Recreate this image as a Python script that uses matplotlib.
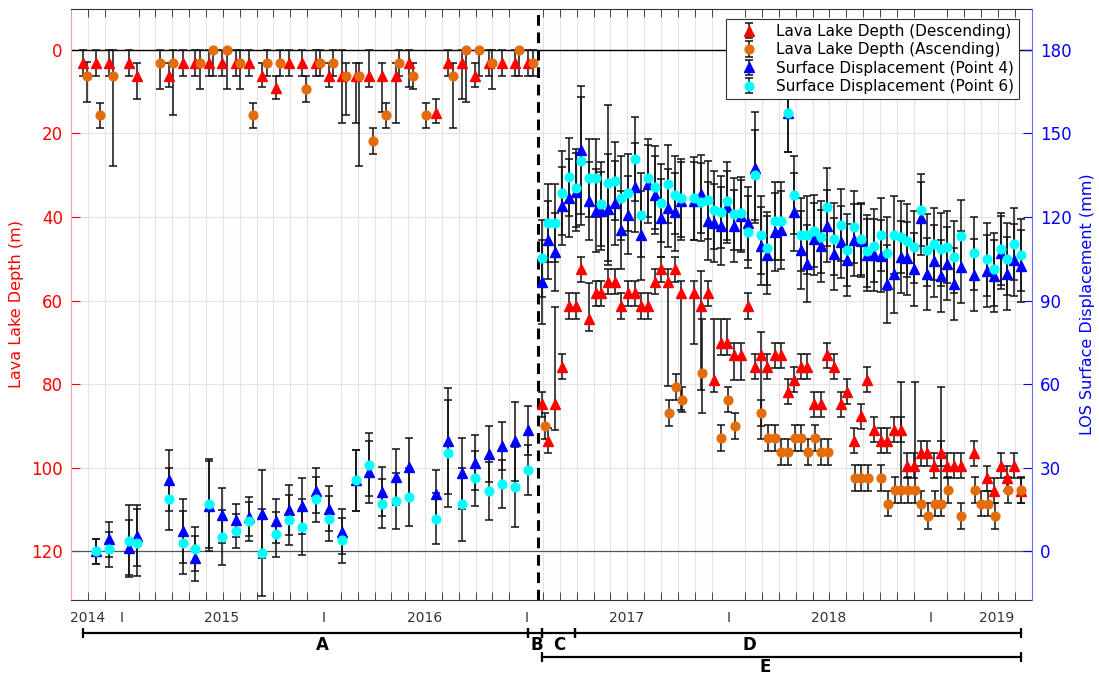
import numpy as np
import matplotlib.pyplot as plt
from matplotlib.transforms import blended_transform_factory

# ---- descending track dates (decimal year) and lava lake depth (m) ----
t_desc = [2014.807, 2014.873, 2014.939, 2015.038, 2015.074, 2015.236, 2015.302, 2015.364,
          2015.432, 2015.498, 2015.564, 2015.631, 2015.695, 2015.762, 2015.827, 2015.893,
          2015.959, 2016.027, 2016.090, 2016.157, 2016.223, 2016.287, 2016.354, 2016.420,
          2016.552, 2016.615, 2016.682, 2016.747, 2016.816, 2016.882, 2016.944, 2017.010,
          2017.076, 2017.109, 2017.142, 2017.175, 2017.211, 2017.244, 2017.273, 2017.310, 2017.343, 2017.372,
          2017.405, 2017.438, 2017.471, 2017.504, 2017.537, 2017.567, 2017.600, 2017.636, 2017.669, 2017.702,
          2017.735, 2017.768, 2017.830, 2017.867, 2017.900, 2017.929, 2017.962, 2017.995, 2018.028, 2018.061,
          2018.097, 2018.130, 2018.160, 2018.193, 2018.229, 2018.262, 2018.295, 2018.325, 2018.358, 2018.391,
          2018.424, 2018.456, 2018.489, 2018.522, 2018.555, 2018.588, 2018.621, 2018.654, 2018.687, 2018.720,
          2018.753, 2018.786, 2018.819, 2018.852, 2018.885, 2018.918, 2018.951, 2018.984, 2019.017, 2019.050,
          2019.083, 2019.116, 2019.149, 2019.214, 2019.280, 2019.313, 2019.346, 2019.379, 2019.412, 2019.445]
depth_desc = [3.1, 3.1, 3.1, 3.1, 6.2, 6.2, 3.1, 3.1, 3.1, 3.1, 3.1, 3.1, 6.2, 9.0, 3.1, 3.1,
              3.1, 6.2, 6.2, 6.2, 6.2, 6.2, 6.2, 3.1, 15.0, 3.1, 3.1, 6.2, 3.1, 3.1, 3.1, 3.1,
              84.8, 93.6, 84.8, 75.8, 61.3, 61.3, 52.5, 64.3, 58.3, 58.3,
              55.5, 55.5, 61.3, 58.3, 58.3, 61.3, 61.3, 55.5, 52.5, 55.5,
              52.5, 58.3, 58.3, 61.3, 58.3, 79.0, 70.1, 70.1, 73.1, 73.1,
              61.3, 75.8, 73.1, 75.8, 73.1, 73.1, 81.8, 79.0, 75.8, 75.8,
              84.8, 84.8, 73.1, 75.8, 84.8, 81.8, 93.6, 87.7, 79.0, 90.9,
              93.6, 93.6, 90.9, 90.9, 99.6, 99.6, 96.6, 96.6, 99.6, 96.6,
              99.6, 99.6, 99.6, 96.6, 102.6, 105.5, 99.6, 102.6, 99.6, 105.5]
desc_err_lo = [3.1, 3.1, 3.1, 3.1, 3.1, 3.1, 3.1, 3.1, 3.1, 3.1, 3.1, 3.1, 3.1, 2.8, 3.1, 3.1,
               3.1, 3.1, 6.2, 3.1, 6.2, 3.1, 3.1, 3.1, 3.2, 3.1, 3.1, 3.1, 3.1, 3.1, 3.1, 3.1,
               3.0, 3.0, 23.3, 3.0, 3.0, 3.0, 3.0, 8.6, 3.0, 3.0,
               3.0, 3.0, 3.0, 3.0, 3.0, 3.0, 3.0, 3.0, 3.0, 3.0,
               3.0, 3.0, 3.0, 8.4, 3.0, 14.5, 5.6, 5.6, 3.0, 3.0,
               3.0, 3.0, 5.6, 3.0, 3.0, 3.0, 3.0, 3.0, 3.0, 3.0,
               3.0, 3.0, 3.0, 3.0, 3.0, 3.0, 3.0, 3.0, 3.0, 3.0,
               3.0, 3.0, 3.0, 3.0, 3.0, 3.0, 3.0, 3.0, 3.0, 3.0,
               3.0, 3.0, 3.0, 3.0, 3.0, 3.0, 3.0, 3.0, 3.0, 3.0]
desc_err_hi = [3.1, 3.1, 3.1, 3.1, 5.5, 2.6, 3.1, 3.1, 3.1, 3.1, 3.1, 3.1, 2.6, 2.7, 3.1, 3.1,
               3.1, 2.6, 11.4, 11.4, 2.6, 8.6, 11.4, 5.7, 2.6, 3.1, 8.6, 2.6, 3.1, 3.1, 3.1, 3.1,
               3.0, 3.0, 6.1, 3.0, 3.0, 3.0, 3.0, 3.0, 3.0, 3.0,
               3.0, 3.0, 3.0, 3.0, 3.0, 3.0, 3.0, 3.0, 3.0, 25.0,
               3.0, 28.0, 12.0, 20.0, 3.0, 3.0, 3.0, 3.0, 6.0, 6.0,
               3.0, 3.0, 20.0, 3.0, 3.0, 3.0, 3.0, 3.0, 3.0, 3.0,
               3.0, 3.0, 3.0, 3.0, 3.0, 3.0, 3.0, 3.0, 3.0, 3.0,
               3.0, 3.0, 3.0, 3.0, 3.0, 3.0, 3.0, 3.0, 3.0, 3.0,
               3.0, 3.0, 3.0, 3.0, 3.0, 3.0, 3.0, 3.0, 3.0, 3.0]

# ---- ascending track ----
t_asc = [2014.830, 2014.893, 2014.959, 2015.189, 2015.255, 2015.387, 2015.453, 2015.519,
         2015.585, 2015.651, 2015.717, 2015.783, 2015.911, 2015.980, 2016.046, 2016.109,
         2016.175, 2016.241, 2016.307, 2016.373, 2016.438, 2016.504, 2016.636, 2016.702,
         2016.768, 2016.832, 2016.966, 2017.032,
         2017.095, 2017.707, 2017.740, 2017.773, 2017.870, 2017.965, 2017.998, 2018.031,
         2018.163, 2018.196, 2018.229, 2018.262, 2018.295, 2018.328, 2018.361, 2018.394,
         2018.427, 2018.460, 2018.493, 2018.625, 2018.657, 2018.690, 2018.756, 2018.789,
         2018.822, 2018.855, 2018.888, 2018.921, 2018.954, 2018.987, 2019.020, 2019.053,
         2019.086, 2019.152, 2019.218, 2019.251, 2019.284, 2019.317, 2019.382, 2019.448]
depth_asc = [6.2, 15.6, 6.2, 3.1, 3.1, 3.1, 0.0, 0.0, 3.1, 15.6, 3.1, 3.1, 9.4, 3.1, 3.1, 6.2,
             6.2, 21.8, 15.6, 3.1, 6.2, 15.6, 6.2, 0.0, 0.0, 3.1, 0.0, 3.1,
             90.1, 86.9, 80.6, 83.7, 77.4, 93.0, 83.7, 90.1, 86.9, 93.0, 93.0, 96.2, 96.2, 93.0,
             93.0, 96.2, 93.0, 96.2, 96.2, 102.4, 102.4, 102.4, 102.4, 108.6, 105.4, 105.4,
             105.4, 105.4, 108.6, 111.6, 108.6, 108.6, 105.4, 111.6, 105.4, 108.6, 108.6,
             111.6, 105.4, 105.4]
asc_err_lo = [3.2, 3.0, 6.2, 3.1, 3.1, 3.1, 0.0, 0.0, 3.1, 3.0, 3.1, 3.1, 3.2, 3.1, 3.1, 3.1,
              3.1, 3.2, 3.0, 3.1, 3.1, 3.0, 3.1, 0.0, 0.0, 3.1, 0.0, 3.1,
              3.1, 3.1, 3.1, 3.1, 12.9, 3.1, 3.1, 3.1, 3.1, 3.1, 3.1, 3.1, 3.1, 3.1,
              3.1, 3.1, 3.1, 3.1, 3.1, 3.1, 3.1, 3.1, 3.1, 3.1, 3.1, 26.0,
              3.1, 26.0, 3.1, 3.1, 3.1, 28.0, 3.1, 3.1, 3.1, 3.1, 3.1,
              3.1, 3.1, 3.1]
asc_err_hi = [6.3, 3.0, 21.6, 6.3, 12.5, 6.3, 6.2, 9.4, 6.3, 3.0, 3.1, 3.1, 3.1, 3.1, 3.1, 9.4,
              21.6, 3.1, 3.0, 3.1, 3.2, 3.0, 12.4, 12.5, 6.2, 6.3, 6.2, 3.1,
              3.1, 3.1, 3.1, 3.1, 9.5, 3.1, 3.1, 3.1, 3.1, 3.1, 3.1, 3.1, 3.1, 3.1,
              3.1, 3.1, 3.1, 3.1, 3.1, 3.1, 3.1, 3.1, 3.1, 3.1, 3.1, 3.1,
              3.1, 3.1, 3.1, 3.1, 3.1, 3.1, 3.1, 3.1, 3.1, 3.1, 3.1,
              3.1, 3.1, 3.1]

# ---- LOS surface displacement (mm), same dates as descending minus the first ----
t_insar = t_desc[1:]
disp_p4 = [0.0, 4.3, 1.3, 5.6, 25.4, 7.3, -2.6, 16.2, 12.9, 11.1, 12.3, 13.3, 10.9, 14.8, 16.2,
           21.7, 15.3, 7.0, 25.4, 28.3, 21.4, 26.7, 30.1, 20.5, 39.5, 27.9, 31.7, 34.9, 37.7,
           39.5, 43.5,
           96.7, 111.7, 107.5, 124.0, 127.0, 129.1, 144.1, 125.7, 122.3, 122.3,
           122.7, 125.1, 115.3, 120.7, 130.6, 113.5, 131.7, 127.9, 119.5, 123.4,
           121.9, 125.7, 125.7, 128.1, 118.6, 118.0, 116.8, 123.7, 116.8, 120.4,
           117.7, 137.7, 109.6, 106.3, 114.7, 115.3, 157.5, 121.9, 108.1, 103.3,
           112.1, 109.6, 116.8, 106.7, 111.1, 104.5, 111.7, 111.5, 106.3, 106.3,
           106.0, 96.1, 99.5, 105.7, 105.1, 101.2, 119.5, 99.5, 104.3, 98.8,
           103.3, 95.9, 102.1, 99.1, 100.7, 98.8, 107.2, 99.7, 104.5, 102.4]
err_p4 = [4.5, 6.3, 10.0, 11.0, 11.0, 11.4, 8.0, 16.0, 9.9, 6.0, 7.0, 15.7, 8.0, 9.0, 10.0,
          8.0, 8.0, 8.0, 11.0, 11.1, 8.7, 10.0, 10.6, 8.6, 19.0, 12.8, 9.9, 10.2, 8.6,
          14.2, 8.8,
          15, 14, 14, 14, 14, 14, 23, 14, 15, 14,
          20, 15, 14, 14, 16, 16, 14, 14, 14, 14,
          14, 14, 14, 14, 14, 14, 14, 13, 13, 13,
          13, 20, 14, 14, 14, 14, 14, 14, 14, 14,
          13, 13, 13, 13, 13, 13, 13, 13, 13, 13,
          13, 14, 14, 13, 13, 13, 13, 13, 13, 13,
          13, 13, 13, 13, 13, 13, 13, 13, 13, 13]
disp_p6 = [0.0, 0.6, 3.7, 3.1, 18.8, 3.1, 0.7, 17.0, 4.9, 7.2, 10.8, -0.5, 6.0, 11.1, 8.6,
           18.6, 11.7, 3.9, 25.4, 31.0, 17.0, 18.1, 19.5, 11.7, 35.1, 16.8, 26.1, 21.7, 24.2,
           23.0, 29.1,
           105.1, 118.0, 117.7, 128.7, 134.5, 130.3, 140.2, 134.1, 134.1, 124.6,
           132.1, 132.9, 126.9, 128.8, 140.8, 120.7, 134.1, 130.6, 125.1, 131.7,
           127.9, 126.9, 126.7, 125.3, 126.1, 122.5, 121.7, 125.7, 121.0, 121.3,
           114.7, 135.1, 113.7, 108.7, 118.6, 118.6, 157.5, 127.9, 113.7, 113.7,
           114.9, 112.9, 123.7, 112.1, 117.1, 108.1, 116.5, 112.1, 107.9, 109.7,
           113.7, 106.9, 113.7, 112.9, 111.5, 109.3, 122.5, 108.1, 110.3, 108.4,
           109.3, 105.7, 113.2, 106.9, 104.8, 101.2, 108.5, 104.9, 110.2, 106.3]
err_p6 = [4.5, 6.4, 13.0, 12.0, 11.2, 11.2, 7.9, 16.0, 9.9, 6.0, 7.0, 15.6, 8.0, 9.0, 10.0,
          8.0, 8.0, 8.0, 11.0, 11.3, 8.8, 10.0, 10.5, 9.0, 19.3, 13.0, 9.9, 10.4, 8.6,
          14.3, 9.0,
          14, 14, 14, 15, 14, 14, 23, 14, 14, 15,
          28, 14, 15, 14, 15, 15, 14, 15, 14, 14,
          14, 14, 15, 14, 14, 14, 13, 14, 13, 13,
          13, 16, 14, 13, 14, 14, 14, 14, 13, 14,
          13, 13, 14, 13, 13, 13, 13, 13, 13, 13,
          13, 13, 14, 13, 13, 13, 13, 13, 13, 13,
          13, 13, 13, 13, 13, 13, 13, 13, 13, 13]

t_drain = 2017.06   # dashed line

# x labels: year names and year separators
year_pos = [2014.83, 2015.494, 2016.496, 2017.496, 2018.498, 2019.325]
year_names = ['2014', '2015', '2016', '2017', '2018', '2019']
sep_pos = [2015, 2016, 2017, 2018, 2019]

# phase bars: (label, start, end, row, label x)
phases = [('A', 2014.807, 2017.010, 0, 2015.992),
          ('B', 2017.010, 2017.076, 0, 2017.051),
          ('C', 2017.076, 2017.241, 0, 2017.163),
          ('D', 2017.241, 2019.445, 0, 2018.102),
          ('E', 2017.076, 2019.445, 1, 2018.180)]

fig = plt.figure(figsize=(10.99, 6.75), dpi=100)
ax = fig.add_axes([71.2/1099, 1-600/675, 960.5/1099, 591.4/675])
ax2 = ax.twinx()

ax.set_xlim(2014.75, 2019.5)
ax.set_ylim(131.7, -9.9)
ax2.set_ylim(180-1.5*131.7, 180+1.5*9.9)

# grid
months = np.arange(2014.75, 2019.5 + 1e-6, 1/12)
ax.set_xticks(months, minor=True)
ax.set_xticks(year_pos + sep_pos, year_names + ['I']*len(sep_pos))
ax.set_yticks([0, 20, 40, 60, 80, 100, 120])
ax2.set_yticks([0, 30, 60, 90, 120, 150, 180])
ax.set_axisbelow(True)
ax.xaxis.grid(True, which='minor', color='#e4e4e4', lw=0.8)
ax.xaxis.grid(False, which='major')
ax.yaxis.grid(True, which='major', color='#e4e4e4', lw=0.8)

ax.axhline(0, color='k', lw=1.0, zorder=1.5)
ax.axhline(120, color='#555555', lw=0.9, zorder=1.5)
ax.axvline(t_drain, color='k', lw=2.2, ls=(0, (3.5, 2.2)), zorder=1.6)

ms_tri, ms_dot = 6.8, 6.3
ek = dict(ecolor='#111111', elinewidth=1.1, capsize=3, capthick=1.1, ls='none')
h1 = ax.errorbar(t_desc, depth_desc, yerr=[desc_err_lo, desc_err_hi], fmt='^', color='red',
                 ms=ms_tri, mec='red', label='Lava Lake Depth (Descending)', **ek)
h2 = ax.errorbar(t_asc, depth_asc, yerr=[asc_err_lo, asc_err_hi], fmt='o', color='#e46c0a',
                 ms=ms_dot, mec='#e46c0a', label='Lava Lake Depth (Ascending)', **ek)
h3 = ax2.errorbar(t_insar, disp_p4, yerr=err_p4, fmt='^', color='blue', ms=ms_tri, mec='blue',
                  label='Surface Displacement (Point 4)', **ek)
h4 = ax2.errorbar(t_insar, disp_p6, yerr=err_p6, fmt='o', color='cyan', ms=ms_dot, mec='cyan',
                  label='Surface Displacement (Point 6)', **ek)

# spines and ticks
for s in ['top', 'bottom']:
    ax.spines[s].set_color('#333333')
    ax2.spines[s].set_visible(False)
ax.spines['right'].set_visible(False)
ax2.spines['left'].set_visible(False)
ax.spines['left'].set_color('#ff9c9c')
ax2.spines['right'].set_color('#6a6aff')

ax.tick_params(axis='y', direction='in', length=6.5, width=0.8, color='red',
               labelcolor='red', labelsize=12, pad=6)
ax2.tick_params(axis='y', direction='in', length=6.5, width=0.8, color='blue',
                labelcolor='blue', labelsize=12, pad=6)
ax.tick_params(axis='x', which='major', length=0, labelsize=10, labelcolor='#333333', pad=8)
ax.tick_params(axis='x', which='minor', direction='in', length=5.5, width=0.7,
               color='#444444', top=True, bottom=True)

ax.set_ylabel('Lava Lake Depth (m)', color='red', fontsize=11.5, labelpad=5)
ax2.set_ylabel('LOS Surface Displacement (mm)', color='blue', fontsize=11.5, labelpad=6)

leg = ax2.legend([h1, h2, h3, h4], [h.get_label() for h in [h1, h2, h3, h4]],
                 loc='upper right', bbox_to_anchor=(0.9868, 0.9819), borderaxespad=0,
                 fontsize=11, fancybox=False, framealpha=1, edgecolor='#333333',
                 handlelength=2.4, handletextpad=0.6, labelspacing=0.22, borderpad=0.3)
leg.get_frame().set_linewidth(0.8)

# phase bars below the axis
tr = blended_transform_factory(ax.transData, fig.transFigure)
row_y = [1 - 633.3/675, 1 - 656.5/675]
lab_y = [1 - 645/675, 1 - 667/675]
for name, x0, x1, row, xl in phases:
    y = row_y[row]
    ax.plot([x0, x1], [y, y], color='k', lw=1.6, transform=tr, clip_on=False)
    ax.plot([x0, x1], [y, y], ls='none', marker='|', ms=7, mew=1.6, color='k',
            transform=tr, clip_on=False)
    ax.text(xl, lab_y[row], name, transform=tr, ha='center', va='center',
            fontsize=12, fontweight='bold')

fig.savefig('out.png', dpi=100)
